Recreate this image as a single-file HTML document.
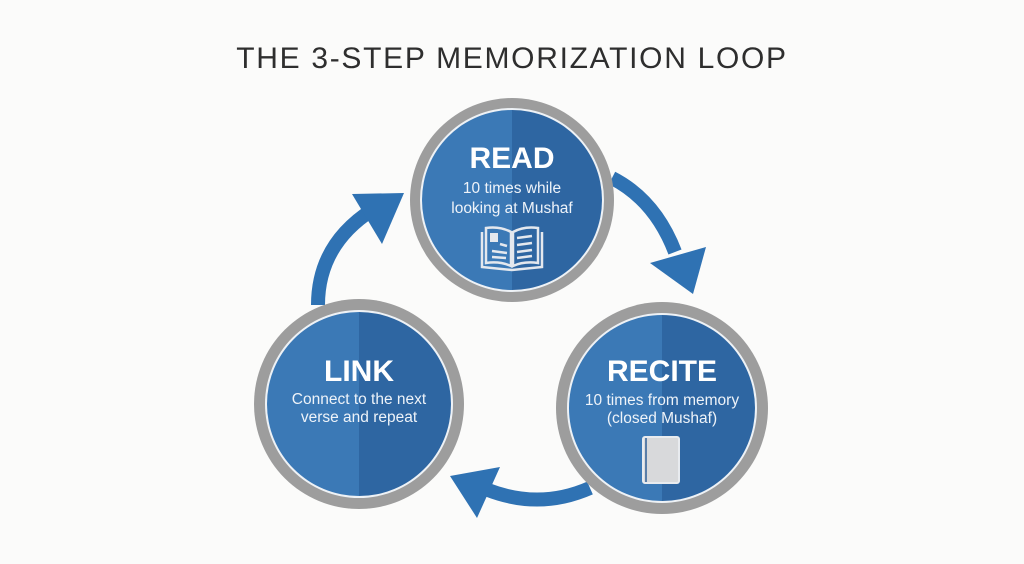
<!DOCTYPE html>
<html><head><style>
body{margin:0;width:1024px;height:559px;background:#fbfbfa;overflow:hidden}
</style></head><body>
<svg width="1024" height="559" viewBox="0 0 1024 559" xmlns="http://www.w3.org/2000/svg" font-family="Liberation Sans, sans-serif">
<defs>
<clipPath id="c1"><circle cx="512" cy="200" r="90"/></clipPath>
<clipPath id="c2"><circle cx="359" cy="404" r="92"/></clipPath>
<clipPath id="c3"><circle cx="662" cy="408" r="93"/></clipPath>
</defs>
<text x="512" y="68" text-anchor="middle" font-size="30" fill="#2e2e2e" letter-spacing="1.7">THE 3-STEP MEMORIZATION LOOP</text>

<!-- arrows -->
<path d="M318 305 Q318 245 372 210" stroke="#2f72b3" stroke-width="14" fill="none"/>
<polygon points="352,194 404,193 382,244" fill="#2f72b3"/>
<path d="M612 178 Q655 200 675 252" stroke="#2f72b3" stroke-width="14" fill="none"/>
<polygon points="650,263 706,247 693,294" fill="#2f72b3"/>
<path d="M590 488 Q540 510 488 490" stroke="#2f72b3" stroke-width="14" fill="none"/>
<polygon points="500,467 477,518 450,476" fill="#2f72b3"/>

<!-- circles -->
<g>
<circle cx="512" cy="200" r="102" fill="#9d9d9d"/>
<circle cx="512" cy="200" r="92" fill="#eef2f6"/>
<g clip-path="url(#c1)"><rect x="410" y="100" width="102" height="200" fill="#3b79b6"/><rect x="512" y="100" width="102" height="200" fill="#2e66a2"/></g>
<circle cx="359" cy="404" r="105" fill="#9d9d9d"/>
<circle cx="359" cy="404" r="94" fill="#eef2f6"/>
<g clip-path="url(#c2)"><rect x="250" y="300" width="109" height="210" fill="#3b79b6"/><rect x="359" y="300" width="109" height="210" fill="#2e66a2"/></g>
<circle cx="662" cy="408" r="106" fill="#9d9d9d"/>
<circle cx="662" cy="408" r="95" fill="#eef2f6"/>
<g clip-path="url(#c3)"><rect x="555" y="300" width="107" height="215" fill="#3b79b6"/><rect x="662" y="300" width="107" height="215" fill="#2e66a2"/></g>
</g>

<g fill="#fff" text-anchor="middle">
<text x="512" y="168" font-size="30" font-weight="bold">READ</text>
<text x="512" y="193" font-size="15.5" fill="#eef3f9">10 times while</text>
<text x="512" y="213" font-size="15.5" fill="#eef3f9">looking at Mushaf</text>
<text x="359" y="381" font-size="30" font-weight="bold">LINK</text>
<text x="359" y="404" font-size="15.5" fill="#eef3f9">Connect to the next</text>
<text x="359" y="422" font-size="15.5" fill="#eef3f9">verse and repeat</text>
<text x="662" y="381" font-size="30" font-weight="bold">RECITE</text>
<text x="662" y="405" font-size="15.5" fill="#eef3f9">10 times from memory</text>
<text x="662" y="423" font-size="15.5" fill="#eef3f9">(closed Mushaf)</text>
</g>

<!-- open book icon -->
<g stroke="#e4e8ee" stroke-width="2.5" fill="none">
<path d="M482 232 L482 267 L512 270 L542 267 L542 232"/>
<path d="M486 228 Q500 226 511 232 L511 266 Q500 261 486 263 Z"/>
<path d="M538 228 Q524 226 513 232 L513 266 Q524 261 538 263 Z"/>
<path d="M500 244 L507 246 M492 251 L507 253 M492 257 L506 258 M517 238 L532 236 M517 245 L532 243 M517 252 L532 250 M517 258 L532 256"/>
</g>
<rect x="490" y="233" width="8" height="9" fill="#e4e8ee"/>
<!-- closed book icon -->
<rect x="643" y="437" width="36" height="46" rx="2" fill="#d8d9db" stroke="#e8ebef" stroke-width="2"/>
<line x1="646" y1="438" x2="646" y2="482" stroke="#5a7ea8" stroke-width="2"/>
</svg>
</body></html>
